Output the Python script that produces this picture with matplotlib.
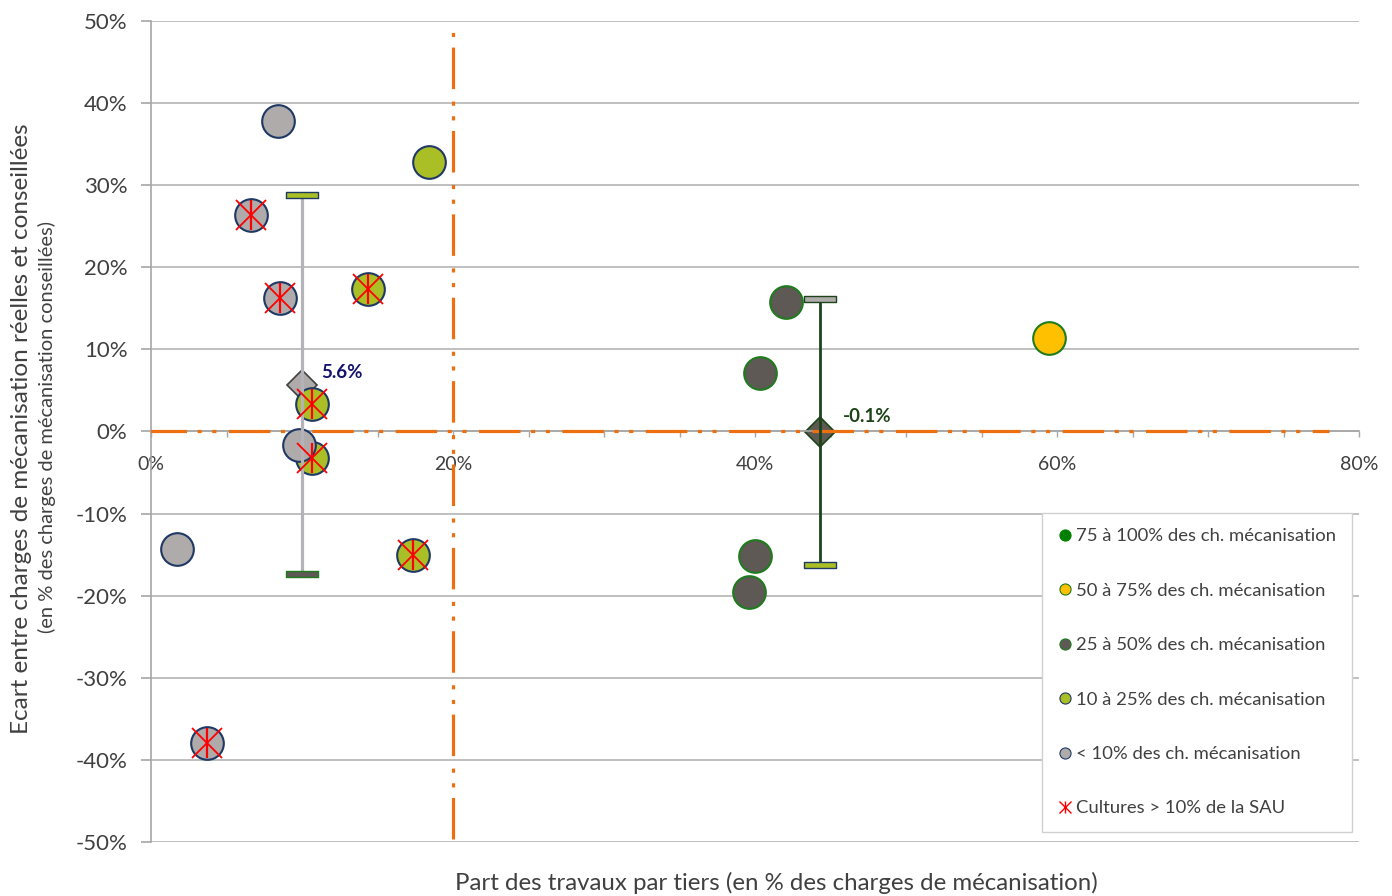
import numpy as np
import matplotlib
matplotlib.use("Agg")
import matplotlib.pyplot as plt
from matplotlib.lines import Line2D
from matplotlib.path import Path

plt.rcParams['font.family'] = ['Lato', 'DejaVu Sans']

# part des travaux par tiers (%) / écart charges réelles vs conseillées (%)
x_75_100, y_75_100 = [], []
x_50_75, y_50_75 = [59.5], [11.4]
x_25_50, y_25_50 = [42.05, 40.3, 40.0, 39.6], [15.8, 7.1, -15.2, -19.5]
x_10_25 = [18.4, 14.4, 10.66, 10.66, 17.35]
y_10_25 = [32.8, 17.4, 3.4, -3.2, -15.0]
cult_10_25 = [False, True, True, True, True]
x_lt10 = [8.41, 6.62, 8.54, 9.8, 1.72, 3.71]
y_lt10 = [37.8, 26.4, 16.3, -1.6, -14.3, -37.9]
cult_lt10 = [False, True, True, False, False, True]

# moyennes et étendues par groupe
mean_x = [10.0, 44.3]
mean_y = [5.6, -0.1]
err_hi = [28.8, 16.1]
err_lo = [-17.4, -16.3]

# repères (seuil 20 % de travaux par tiers, écart nul)
ref_x = [20, 20]
ref_y = [-49.6, 49.5]
zero_x = [-0.4, 78.0]
zero_y = [0, 0]

labels = ["75 à 100% des ch. mécanisation", "50 à 75% des ch. mécanisation",
          "25 à 50% des ch. mécanisation", "10 à 25% des ch. mécanisation",
          "< 10% des ch. mécanisation", "Cultures > 10% de la SAU"]

GREEN = "#008000"
GOLD = "#FFC000"
DARK = "#5E5954"
LIME = "#AABF26"
GRAY = "#AFABAB"
NAVY = "#1F3864"
EDGE_G = "#1E7B1E"
DKGREEN = "#1C4418"
ORANGE = "#EC7010"

fig = plt.figure(figsize=(13.92, 8.96), dpi=100)
ax = fig.add_axes([0.1085, 0.0603, 0.8678, 0.9163])

# axe des x à hauteur de l'écart nul (avant les réglages de graduations)
for s in ['top', 'right']:
    ax.spines[s].set_visible(False)
ax.spines['bottom'].set_position(('data', 0))
ax.spines['bottom'].set_color("#A6A6A6")
ax.spines['left'].set_color("#A6A6A6")
ax.spines['bottom'].set_linewidth(1.2)
ax.spines['left'].set_linewidth(1.2)

ax.set_xlim(0, 80)
ax.set_ylim(-50, 50)
ax.set_yticks(np.arange(-50, 51, 10))
ax.set_xticks([0, 20, 40, 60, 80])
ax.set_xticks(np.arange(0, 81, 5), minor=True)
ax.set_yticklabels([f"{v}%" for v in range(-50, 51, 10)], fontsize=16, color="#404040")
ax.set_xticklabels([f"{v}%" for v in [0, 20, 40, 60, 80]], fontsize=14, color="#404040")
ax.tick_params(axis='y', length=7, width=1.2, color="#A6A6A6", pad=10)
ax.tick_params(axis='x', which='both', length=4, width=1.0, color="#A6A6A6", pad=14)

ax.grid(axis='y', color="#BFBFBF", lw=1.4, zorder=0)
ax.set_axisbelow(True)

# lignes de référence en tiret-point-point
dash = (13, 3.3, 1.3, 3.3, 1.3, 3.9)
ax.plot(ref_x, ref_y, color=ORANGE, lw=2.3, dashes=dash, dash_capstyle='butt', zorder=3)
ax.plot(zero_x, zero_y, color=ORANGE, lw=2.3, dashes=dash, dash_capstyle='butt', zorder=3)

# moyennes (losanges)
ax.plot(mean_x[0], mean_y[0], 'D', ms=15, mfc=GRAY, mec="#404040", mew=1.2, zorder=2)
ax.plot(mean_x[1], mean_y[1], 'D', ms=15, mfc=DARK, mec=DKGREEN, mew=1.2, zorder=2)

ms = 23.5
ax.plot(x_75_100, y_75_100, 'o', ms=ms, mfc=GREEN, mec=EDGE_G, mew=1.5, zorder=4)
ax.plot(x_50_75, y_50_75, 'o', ms=ms, mfc=GOLD, mec=EDGE_G, mew=1.5, zorder=4)
ax.plot(x_25_50, y_25_50, 'o', ms=ms, mfc=DARK, mec=EDGE_G, mew=1.5, zorder=4)
ax.plot(x_10_25, y_10_25, 'o', ms=ms, mfc=LIME, mec=NAVY, mew=1.5, zorder=4)
ax.plot(x_lt10, y_lt10, 'o', ms=ms, mfc=GRAY, mec=NAVY, mew=1.5, zorder=4)

# étendue min-max
ax.plot([mean_x[0], mean_x[0]], [err_lo[0], err_hi[0]], color="#B4B4B8", lw=2.3, zorder=5)
ax.plot([mean_x[1], mean_x[1]], [err_lo[1], err_hi[1]], color=DKGREEN, lw=2.0, zorder=5)
cap = Path([(-1, -0.17), (1, -0.17), (1, 0.17), (-1, 0.17), (-1, -0.17)],
           [Path.MOVETO, Path.LINETO, Path.LINETO, Path.LINETO, Path.CLOSEPOLY])
cap_ms = 23
ax.plot(mean_x[0], err_hi[0], marker=cap, ms=cap_ms, mfc=LIME, mec=NAVY, mew=1.0, ls='none', zorder=6)
ax.plot(mean_x[0], err_lo[0], marker=cap, ms=cap_ms, mfc=DARK, mec=EDGE_G, mew=1.0, ls='none', zorder=6)
ax.plot(mean_x[1], err_hi[1], marker=cap, ms=cap_ms, mfc=GRAY, mec=DKGREEN, mew=1.0, ls='none', zorder=6)
ax.plot(mean_x[1], err_lo[1], marker=cap, ms=cap_ms, mfc=LIME, mec=NAVY, mew=1.0, ls='none', zorder=6)

# croix : cultures > 10 % de la SAU
cx = [x for x, c in zip(x_10_25, cult_10_25) if c] + [x for x, c in zip(x_lt10, cult_lt10) if c]
cy = [y for y, c in zip(y_10_25, cult_10_25) if c] + [y for y, c in zip(y_lt10, cult_lt10) if c]
ax.plot(cx, cy, 'x', ms=21, mec="#FF0000", mew=1.3, ls='none', zorder=7)
ax.plot(cx, cy, '|', ms=21, mec="#FF0000", mew=1.6, ls='none', zorder=7)

ax.annotate(f"{mean_y[0]:.1f}%", (mean_x[0], mean_y[0]), xytext=(13.5, 9.5),
            textcoords='offset points', va='center', ha='left', fontsize=13.5,
            fontweight='bold', color="#14146E", zorder=8)
ax.annotate(f"{mean_y[1]:.1f}%", (mean_x[1], mean_y[1]), xytext=(16.5, 11.5),
            textcoords='offset points', va='center', ha='left', fontsize=13.5,
            fontweight='bold', color=DKGREEN, zorder=8)

# légende
handles = [
    Line2D([], [], ls='none', marker='o', ms=8, mfc=GREEN, mec=GREEN, mew=0.8),
    Line2D([], [], ls='none', marker='o', ms=8, mfc=GOLD, mec=EDGE_G, mew=0.8),
    Line2D([], [], ls='none', marker='o', ms=8, mfc=DARK, mec=EDGE_G, mew=0.8),
    Line2D([], [], ls='none', marker='o', ms=8, mfc=LIME, mec=NAVY, mew=0.8),
    Line2D([], [], ls='none', marker='o', ms=8, mfc=GRAY, mec=NAVY, mew=0.8),
    (Line2D([], [], ls='none', marker='x', ms=8, mec="#FF0000", mew=1.0),
     Line2D([], [], ls='none', marker='|', ms=9, mec="#FF0000", mew=1.0)),
]
leg = ax.legend(handles, labels, loc='lower right', bbox_to_anchor=(0.994, 0.012),
                fontsize=13.3, labelspacing=2.08, handlelength=0.8, handletextpad=0.2,
                borderpad=0.85, borderaxespad=0, fancybox=False, framealpha=1,
                labelcolor="#404040")
leg.get_frame().set_edgecolor("#D0D0D0")
leg.get_frame().set_linewidth(1.0)
leg.set_zorder(9)

fig.text(0.0158, 0.521, "Ecart entre charges de mécanisation réelles et conseillées",
         rotation=90, ha='center', va='center', fontsize=17.5, color="#404040")
fig.text(0.0335, 0.523, "(en % des charges de mécanisation conseillées)",
         rotation=90, ha='center', va='center', fontsize=14.5, color="#404040")
fig.text(0.558, 0.0145, "Part des travaux par tiers (en % des charges de mécanisation)",
         ha='center', va='center', fontsize=17.3, color="#404040")

fig.savefig("out.png", dpi=100)
